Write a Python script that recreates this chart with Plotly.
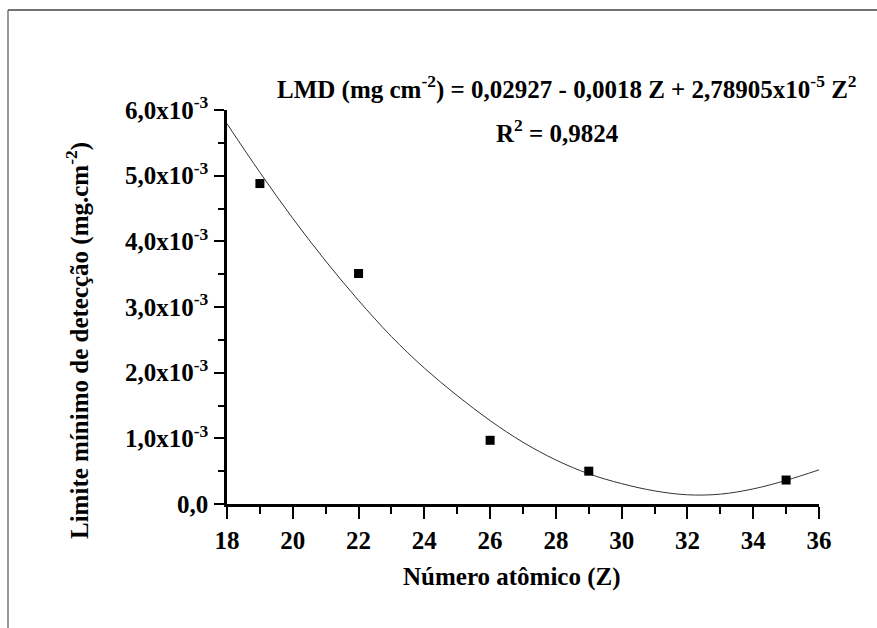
import plotly.graph_objects as go

# Measured data points
z_points = [19, 22, 26, 29, 35]
lmd_points = [4.88e-3, 3.51e-3, 0.97e-3, 0.50e-3, 0.365e-3]

# Fitted curve, values
z_curve = [18, 19, 20, 21, 22, 23, 24, 25, 26, 27, 28, 29, 30, 31, 32, 33, 34, 35, 36]
lmd_curve = [5.79e-3, 5.05e-3, 4.35e-3, 3.70e-3, 3.10e-3, 2.55e-3, 2.07e-3, 1.65e-3,
             1.27e-3, 0.94e-3, 0.67e-3, 0.46e-3, 0.31e-3, 0.20e-3, 0.14e-3, 0.15e-3,
             0.23e-3, 0.36e-3, 0.52e-3]

x_ticks = [18, 20, 22, 24, 26, 28, 30, 32, 34, 36]
y_ticks = [0, 1e-3, 2e-3, 3e-3, 4e-3, 5e-3, 6e-3]
y_ticktext = ["<b>0,0</b>", "<b>1,0x10<sup>-3</sup></b>", "<b>2,0x10<sup>-3</sup></b>",
              "<b>3,0x10<sup>-3</sup></b>", "<b>4,0x10<sup>-3</sup></b>",
              "<b>5,0x10<sup>-3</sup></b>", "<b>6,0x10<sup>-3</sup></b>"]

FONT = "Liberation Serif, Times New Roman, DejaVu Serif, serif"

fig = go.Figure()
fig.add_trace(go.Scatter(x=z_curve, y=lmd_curve, mode="lines", line_shape="spline",
                         line=dict(color="#333333", width=1), showlegend=False))
fig.add_trace(go.Scatter(x=z_points, y=lmd_points, mode="markers",
                         marker=dict(symbol="square", size=9, color="black"), showlegend=False))

L, R, T, B = 227, 819, 110, 504
W, H = 877, 628


def px(x):
    return (x - L) / (R - L)


def py(y):
    return (B - y) / (B - T)


fig.update_layout(
    width=W, height=H,
    margin=dict(l=L, r=W - R, t=T, b=H - B),
    paper_bgcolor="white", plot_bgcolor="white",
    font=dict(family=FONT, color="black"),
    xaxis=dict(range=[18, 36], tickmode="array", tickvals=x_ticks,
               ticktext=[f"<b>{v}</b>" for v in x_ticks],
               ticks="outside", ticklen=12, tickwidth=2, tickcolor="black",
               showline=True, linewidth=3, linecolor="black", showgrid=False, zeroline=False,
               tickfont=dict(size=25, family=FONT),
               minor=dict(dtick=1, tick0=18, ticks="outside", ticklen=7, tickwidth=2,
                          tickcolor="black", showgrid=False)),
    yaxis=dict(range=[0, 6e-3], tickmode="array", tickvals=y_ticks, ticktext=y_ticktext,
               ticks="outside", ticklen=10, tickwidth=2, tickcolor="black",
               showline=True, linewidth=2.5, linecolor="black", showgrid=False, zeroline=False,
               tickfont=dict(size=25, family=FONT), ticklabelstandoff=1,
               minor=dict(dtick=0.5e-3, tick0=0, ticks="outside", ticklen=6, tickwidth=2,
                          tickcolor="black", showgrid=False)),
    annotations=[
        dict(text="<b>LMD (mg cm<sup>-2</sup>) = 0,02927 - 0,0018 Z + 2,78905x10<sup>-5</sup> Z<sup>2</sup></b>",
             xref="paper", yref="paper", x=px(567), y=py(88), showarrow=False,
             font=dict(size=25, family=FONT), xanchor="center", yanchor="middle"),
        dict(text="<b>R<sup>2</sup> = 0,9824</b>",
             xref="paper", yref="paper", x=px(557), y=py(131), showarrow=False,
             font=dict(size=25, family=FONT), xanchor="center", yanchor="middle"),
        dict(text="<b>Número atômico (Z)</b>",
             xref="paper", yref="paper", x=px(512), y=py(577), showarrow=False,
             font=dict(size=25, family=FONT), xanchor="center", yanchor="middle"),
        dict(text="<b>Limite mínimo de detecção (mg.cm<sup>-2</sup>)</b>", textangle=-90,
             xref="paper", yref="paper", x=px(77), y=py(341), showarrow=False,
             font=dict(size=25, family=FONT), xanchor="center", yanchor="middle"),
    ],
    shapes=[
        dict(type="line", xref="paper", yref="paper", x0=px(8), x1=px(877), y0=py(10), y1=py(10),
             line=dict(color="#444444", width=1.5)),
        dict(type="line", xref="paper", yref="paper", x0=px(8), x1=px(8), y0=py(10), y1=py(628),
             line=dict(color="#555555", width=1.2)),
    ],
)

fig.write_html("out.html")
